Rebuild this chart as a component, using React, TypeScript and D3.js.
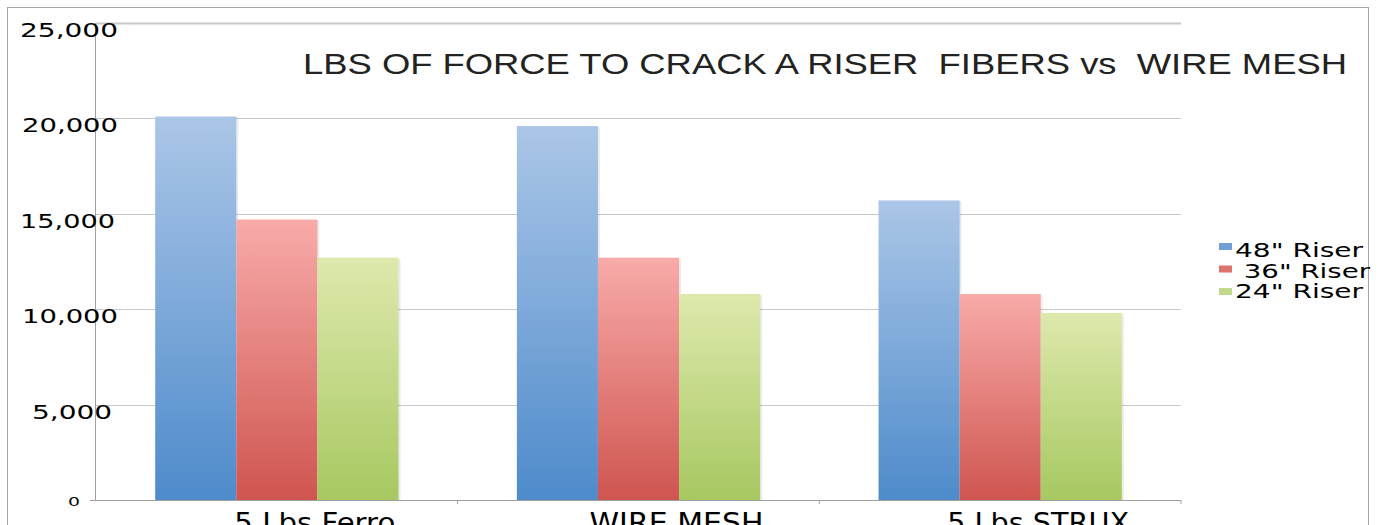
import React from 'react';
import * as d3 from 'd3';

const categories = ['5 Lbs Ferro', 'WIRE MESH', '5 Lbs STRUX'];
const seriesNames = ['48" Riser', ' 36" Riser', '24" Riser'];
const riser48 = [20100, 19600, 15700];
const riser36 = [14700, 12700, 10800];
const riser24 = [12700, 10800, 9800];
const yTicks = [0, 5000, 10000, 15000, 20000, 25000];
const yTickLabels = ['0', '5,000', '10,000', '15,000', '20,000', '25,000'];

const W = 1383;
const H = 525;
const margin = { top: 23, right: 202, bottom: 25, left: 96 };

const gradients = [
  { id: 'gBlue', top: '#abc6e7', bottom: '#4e8bcb' },
  { id: 'gRed', top: '#f8aba9', bottom: '#cf5550' },
  { id: 'gGreen', top: '#dee9ad', bottom: '#a7c861' },
];
const legendSwatch = ['#6f9fd6', '#e0726d', '#c2d88a'];

export default function App() {
  const series = [riser48, riser36, riser24];
  const x = d3
    .scaleBand<string>()
    .domain(categories)
    .range([margin.left, W - margin.right])
    .paddingInner(0)
    .paddingOuter(0);
  const inner = d3
    .scaleBand<number>()
    .domain([0, 1, 2])
    .range([0, x.bandwidth()])
    .paddingOuter(0.73)
    .paddingInner(0);
  const y = d3
    .scaleLinear()
    .domain([0, 25000])
    .range([H - margin.bottom, margin.top]);

  const labelWidths = [12, 80, 96, 95, 96, 98];
  const labelRight = [80, 112, 118, 115, 118, 118];
  const catLabelWidths = [161, 174, 182];

  return (
    <svg
      width={W}
      height={H}
      style={{ position: 'absolute', left: 0, top: 0, background: '#fff' }}
    >
      <defs>
        {gradients.map((g) => (
          <linearGradient key={g.id} id={g.id} x1="0" y1="0" x2="0" y2="1">
            <stop offset="0%" stopColor={g.top} />
            <stop offset="100%" stopColor={g.bottom} />
          </linearGradient>
        ))}
      </defs>
      <rect x={7.5} y={7.5} width={1361} height={H + 20} fill="none" stroke="#a6a6a6" />

      {/* gridlines */}
      {yTicks.slice(1).map((t) => (
        <line
          key={t}
          x1={margin.left}
          x2={W - margin.right}
          y1={Math.round(y(t)) + 0.5}
          y2={Math.round(y(t)) + 0.5}
          stroke="#c8c8c8"
          strokeWidth={t === 25000 ? 2 : 1}
        />
      ))}

      {/* bars */}
      {categories.map((c, ci) =>
        series.map((s, si) => {
          const bx = (x(c) || 0) + (inner(si) || 0);
          return (
            <g key={c + si}>
              <rect
                x={bx + 2}
                y={y(s[ci]) + 1}
                width={inner.bandwidth()}
                height={y(0) - y(s[ci])}
                fill="#000"
                opacity={0.08}
              />
              <rect
                x={bx}
                y={y(s[ci])}
                width={inner.bandwidth()}
                height={y(0) - y(s[ci])}
                fill={`url(#${gradients[si].id})`}
              />
            </g>
          );
        })
      )}

      {/* axes */}
      <line
        x1={margin.left - 0.5}
        x2={margin.left - 0.5}
        y1={margin.top}
        y2={y(0)}
        stroke="#a0a0a0"
      />
      <line x1={90} x2={W - margin.right} y1={y(0) + 0.5} y2={y(0) + 0.5} stroke="#a0a0a0" />
      {categories.map((c) => (
        <line
          key={'t' + c}
          x1={(x(c) || 0) + x.bandwidth()}
          x2={(x(c) || 0) + x.bandwidth()}
          y1={y(0)}
          y2={y(0) + 4}
          stroke="#a0a0a0"
        />
      ))}

      {/* y tick labels */}
      {yTicks.map((t, i) =>
        i === 0 ? (
          <text
            key={t}
            x={labelRight[i]}
            y={y(t) + 6}
            textAnchor="end"
            fontFamily="DejaVu Sans, Verdana, sans-serif"
            fontSize={13}
            textLength={labelWidths[i]}
            lengthAdjust="spacingAndGlyphs"
            fill="#000"
          >
            {yTickLabels[i]}
          </text>
        ) : (
          <text
            key={t}
            x={labelRight[i] - labelWidths[i]}
            y={y(t) + 14}
            fontFamily="DejaVu Sans, Verdana, sans-serif"
            fontSize={19}
            textLength={labelWidths[i]}
            lengthAdjust="spacingAndGlyphs"
            fill="#000"
          >
            {yTickLabels[i]}
          </text>
        )
      )}

      {/* category labels */}
      {categories.map((c, ci) => (
        <text
          key={'c' + c}
          x={(x(c) || 0) + x.bandwidth() / 2 + 38}
          y={532}
          textAnchor="middle"
          fontFamily="DejaVu Sans, Verdana, sans-serif"
          fontSize={26}
          textLength={catLabelWidths[ci]}
          lengthAdjust="spacingAndGlyphs"
          fill="#000"
        >
          {c}
        </text>
      ))}

      {/* title */}
      <text
        x={303}
        y={74}
        fontFamily="Liberation Sans, Arial, sans-serif"
        fontSize={29}
        textLength={1044}
        lengthAdjust="spacingAndGlyphs"
        fill="#222"
        style={{ whiteSpace: 'pre' }}
      >
        {'LBS OF FORCE TO CRACK A RISER  FIBERS vs  WIRE MESH'}
      </text>

      {/* legend */}
      {seriesNames.map((n, i) => (
        <g key={n}>
          <rect x={1219} y={243 + i * 22.5} width={13} height={7} fill={legendSwatch[i]} />
          <text
            x={1235}
            y={257 + i * 20.5}
            fontFamily="DejaVu Sans, Verdana, sans-serif"
            fontSize={19}
            textLength={i === 1 ? 135 : 128}
            lengthAdjust="spacingAndGlyphs"
            fill="#000"
            style={{ whiteSpace: 'pre' }}
          >
            {n}
          </text>
        </g>
      ))}
    </svg>
  );
}
